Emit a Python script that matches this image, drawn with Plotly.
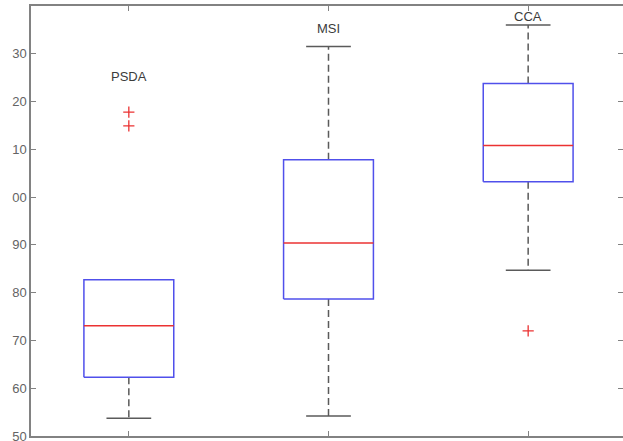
import plotly.graph_objects as go

categories = ["PSDA", "MSI", "CCA"]
positions = [1, 2, 3]
lower_whisker = [53.7, 54.2, 84.7]
q1 = [62.3, 78.7, 103.2]
median = [73.1, 90.4, 110.8]
q3 = [82.7, 107.8, 123.8]
upper_whisker = [82.7, 131.5, 136.0]
outliers = [[117.8, 114.9], [], [72.0]]
label_y = [125.3, 135.2, 137.7]
tick_vals = [50, 60, 70, 80, 90, 100, 110, 120, 130]
tick_text = ["50", "60", "70", "80", "90", "00", "10", "20", "30"]

BOX_HALF = 0.225
CAP_HALF = 0.112
BOX_COLOR = "rgb(80,80,235)"
MED_COLOR = "rgb(235,50,50)"
WHISK_COLOR = "rgb(90,90,90)"
AXIS_COLOR = "rgb(130,130,130)"

fig = go.Figure()

# whiskers and caps first
for i, p in enumerate(positions):
    wx, wy, cx, cy = [], [], [], []
    if upper_whisker[i] > q3[i]:
        wx += [p, p, None]; wy += [q3[i], upper_whisker[i], None]
        cx += [p - CAP_HALF, p + CAP_HALF, None]; cy += [upper_whisker[i], upper_whisker[i], None]
    if lower_whisker[i] < q1[i]:
        wx += [p, p]; wy += [q1[i], lower_whisker[i]]
        cx += [p - CAP_HALF, p + CAP_HALF]; cy += [lower_whisker[i], lower_whisker[i]]
    fig.add_trace(go.Scatter(
        x=wx, y=wy, mode="lines",
        line=dict(color=WHISK_COLOR, width=1.5, dash="7px,4px"),
        hoverinfo="skip", showlegend=False))
    fig.add_trace(go.Scatter(
        x=cx, y=cy, mode="lines", line=dict(color=WHISK_COLOR, width=1.5),
        hoverinfo="skip", showlegend=False))

# boxes
for i, p in enumerate(positions):
    fig.add_trace(go.Scatter(
        x=[p - BOX_HALF, p + BOX_HALF, p + BOX_HALF, p - BOX_HALF, p - BOX_HALF],
        y=[q1[i], q1[i], q3[i], q3[i], q1[i]],
        mode="lines", line=dict(color=BOX_COLOR, width=1.5),
        name=categories[i], showlegend=False))

# medians
for i, p in enumerate(positions):
    fig.add_trace(go.Scatter(
        x=[p - BOX_HALF, p + BOX_HALF], y=[median[i], median[i]],
        mode="lines", line=dict(color=MED_COLOR, width=1.5),
        hoverinfo="skip", showlegend=False))

# outliers and labels
for i, p in enumerate(positions):
    if outliers[i]:
        fig.add_trace(go.Scatter(
            x=[p] * len(outliers[i]), y=outliers[i], mode="markers",
            marker=dict(symbol="cross-thin", size=8, line=dict(color=MED_COLOR, width=1.3)),
            showlegend=False))
    fig.add_annotation(x=p, y=label_y[i], text=categories[i], showarrow=False,
                       font=dict(family="Liberation Sans, Arial", size=13, color="rgb(60,60,60)"),
                       xanchor="center", yanchor="middle")

fig.update_layout(
    width=623, height=441,
    margin=dict(l=31, r=0, t=6, b=5, autoexpand=False),
    paper_bgcolor="white", plot_bgcolor="white",
    font=dict(family="Liberation Sans, Arial", size=13, color="rgb(100,100,100)"),
    xaxis=dict(range=[0.51, 3.475], tickvals=positions, showticklabels=False,
               ticks="inside", ticklen=5, tickcolor=AXIS_COLOR, automargin=False,
               showline=True, linecolor=AXIS_COLOR, linewidth=1.5, mirror="ticks",
               showgrid=False, zeroline=False),
    yaxis=dict(range=[50, 140], tickvals=tick_vals, ticktext=tick_text,
               ticks="inside", ticklen=5, tickcolor=AXIS_COLOR, automargin=False,
               ticklabeloverflow="allow",
               showline=True, linecolor=AXIS_COLOR, linewidth=1.5, mirror="ticks",
               showgrid=False, zeroline=False,
               tickfont=dict(size=13, color="rgb(100,100,100)")),
)

fig.write_html("out.html", config={"displayModeBar": False},
               post_script="document.body.style.margin='0';document.body.style.overflow='hidden';")
